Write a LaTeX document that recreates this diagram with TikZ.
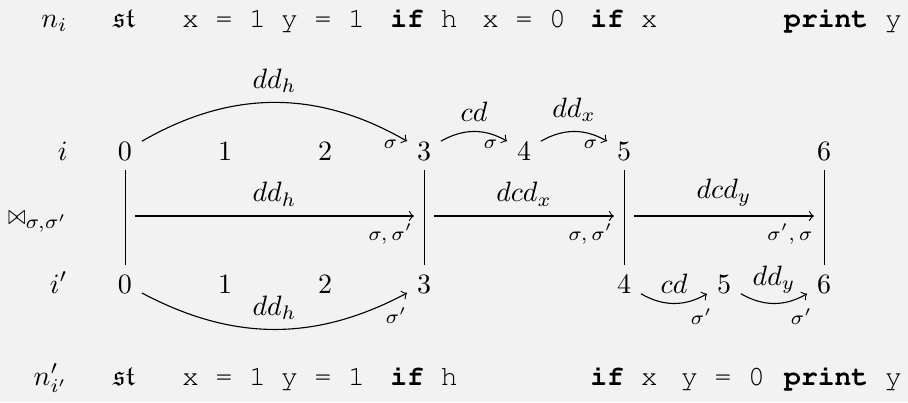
\documentclass[tikz,border=0pt]{standalone}
\usepackage{amssymb}
\usepackage{graphicx}
\usepackage{fontspec}
\definecolor{bgc}{HTML}{F2F2F2}
\newcommand{\courierfont}{\fontencoding{T1}\fontfamily{pcr}\selectfont}
\begin{document}
\begin{tikzpicture}[x=0.35714pt,y=-0.35714pt,
  dig/.style={anchor=base},
  lab/.style={anchor=base east, inner sep=0pt},
  code/.style={anchor=base, inner sep=0pt, font=\courierfont},
  sig/.style={font=\scriptsize},
  link/.style={->},
  bar/.style={line width=0.35pt}]
\fill[bgc] (0,0) rectangle (908,402);
\useasboundingbox (0,0) rectangle (908,402);

% top program line
\node[lab] (ni) at (68,27) {$n_i$};
\node[anchor=base, inner sep=0pt] (st1) at (124,27) {$\mathfrak{st}$};
\node[code] (t1) at (224,27) {x = 1};
\node[code] (t2) at (323,27) {y = 1};
\node[code] (t3) at (424,27) {\textbf{if} h};
\node[code] (t4) at (524,27) {x = 0};
\node[code] (t5) at (624,27) {\textbf{if} x};
\node[code] (t7) at (843,27) {\textbf{print} y};

% bottom program line
\node[lab] (nj) at (68,385) {$n'_{i'}$};
\node[anchor=base, inner sep=0pt] (st2) at (124,385) {$\mathfrak{st}$};
\node[code] (u1) at (224,385) {x = 1};
\node[code] (u2) at (323,385) {y = 1};
\node[code] (u3) at (424,385) {\textbf{if} h};
\node[code] (u5) at (624,385) {\textbf{if} x};
\node[code] (u6) at (723,385) {y = 0};
\node[code] (u7) at (843,385) {\textbf{print} y};

% row labels
\node[lab] (li) at (68,160) {$i$};
\node[lab] (lb) at (68,224) {$\mathrel{\scalebox{0.75}[1]{$\bowtie$}}_{\sigma,\sigma'}$};
\node[lab] (lj) at (68,293) {$i'$};

% row i
\node[dig] (a0) at (125,160) {$0$};
\node[dig] (a1) at (225,160) {$1$};
\node[dig] (a2) at (325,160) {$2$};
\node[dig] (a3) at (424,160) {$3$};
\node[dig] (a4) at (524,160) {$4$};
\node[dig] (a5) at (624,160) {$5$};
\node[dig] (a6) at (824,160) {$6$};

% row i'
\node[dig] (b0) at (125,293) {$0$};
\node[dig] (b1) at (225,293) {$1$};
\node[dig] (b2) at (325,293) {$2$};
\node[dig] (b3) at (424,293) {$3$};
\node[dig] (b4) at (624,293) {$4$};
\node[dig] (b5) at (724,293) {$5$};
\node[dig] (b6) at (824,293) {$6$};

% vertical bars
\draw[bar] (a0) -- (b0);
\draw[bar] (a3) -- (b3);
\draw[bar] (a5) -- (b4);
\draw[bar] (a6) -- (b6);

% middle arrows
\coordinate (m0) at (125,216);
\coordinate (m3) at (424,216);
\coordinate (m5) at (624,216);
\coordinate (m6) at (824,216);
\draw[link, shorten <=3.57pt, shorten >=3.57pt] (m0) -- (m3)
  node[midway, above] {$dd_h$}
  node[pos=1, sig, anchor=base east, inner sep=0pt, xshift=-3.9pt, yshift=-8.6pt] {$\sigma,\sigma'$};
\draw[link, shorten <=3.57pt, shorten >=3.57pt] (m3) -- (m5)
  node[midway, above] {$dcd_x$}
  node[pos=1, sig, anchor=base east, inner sep=0pt, xshift=-3.9pt, yshift=-8.6pt] {$\sigma,\sigma'$};
\draw[link, shorten <=3.57pt, shorten >=3.57pt] (m5) -- (m6)
  node[midway, above] {$dcd_y$}
  node[pos=1, sig, anchor=base east, inner sep=0pt, xshift=-3.9pt, yshift=-8.6pt] {$\sigma',\sigma$};

% top arcs
\draw[link] (a0) to[bend left=30]
  node[above] {$dd_h$}
  node[at end, sig, anchor=east, yshift=-1.2pt] {$\sigma$} (a3);
\draw[link] (a3) to[bend left=30]
  node[above] {$cd$}
  node[at end, sig, anchor=east, yshift=-1.2pt] {$\sigma$} (a4);
\draw[link] (a4) to[bend left=30]
  node[above] {$dd_x$}
  node[at end, sig, anchor=east, yshift=-1.2pt] {$\sigma$} (a5);

% bottom arcs
\draw[link] (b0) to[bend right=28]
  node[above] {$dd_h$}
  node[at end, sig, anchor=north, inner sep=0pt, xshift=-3.9pt, yshift=-5pt] {$\sigma'$} (b3);
\draw[link] (b4) to[bend right=30]
  node[above] {$cd$}
  node[at end, sig, anchor=north, inner sep=0pt, xshift=-2.1pt, yshift=-5pt] {$\sigma'$} (b5);
\draw[link] (b5) to[bend right=30]
  node[above] {$dd_y$}
  node[at end, sig, anchor=north, inner sep=0pt, xshift=-2.1pt, yshift=-5pt] {$\sigma'$} (b6);
\end{tikzpicture}
\end{document}
